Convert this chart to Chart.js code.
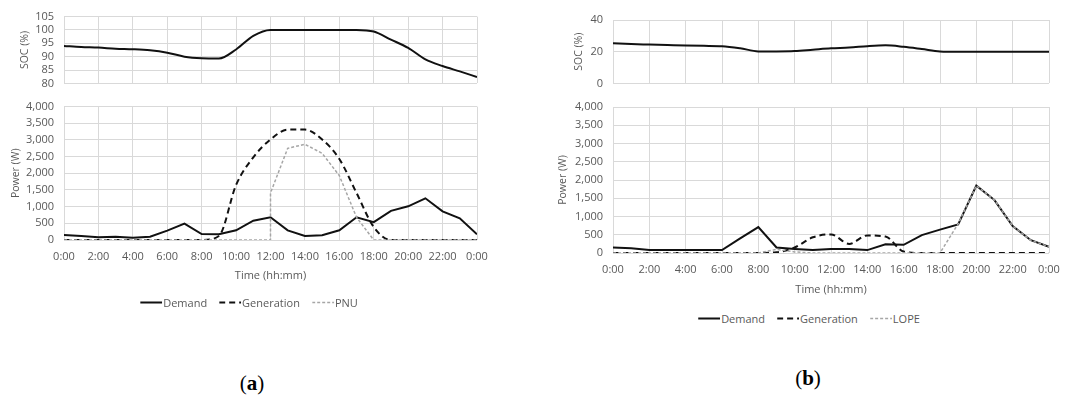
<!DOCTYPE html>
<html>
<head>
<meta charset="utf-8">
<script src="https://cdn.jsdelivr.net/npm/chart.js@4.4.1/dist/chart.umd.min.js"></script>
<style>
  body { margin: 0; background: #fff; }
  #wrap { position: relative; width: 1079px; height: 398px; overflow: hidden; font-family: 'Open Sans', sans-serif; }
  canvas { position: absolute; }
  .legend { position: absolute; display: flex; align-items: center; transform: translate(-50%, -50%);
            font-size: 11px; color: #595959; white-space: nowrap; }
  .legend .item { display: flex; align-items: center; margin: 0 6px; }
  .legend svg { margin-right: 1px; }
  .tag { position: absolute; transform: translate(-50%, -50%); font-family: 'Liberation Serif', serif;
         font-size: 21px; color: #000; }
</style>
</head>
<body>
<div id="wrap">
  <canvas id="socA" width="540" height="100" style="left:0;top:0"></canvas>
  <canvas id="powA" width="540" height="200" style="left:0;top:90px"></canvas>
  <canvas id="socB" width="539" height="100" style="left:540px;top:0"></canvas>
  <canvas id="powB" width="539" height="210" style="left:540px;top:90px"></canvas>
  <div class="legend" id="legA" style="left:249px;top:302px"></div>
  <div class="legend" id="legB" style="left:809px;top:318px"></div>
  <div class="tag" style="left:252px;top:383px">(<b>a</b>)</div>
  <div class="tag" style="left:808px;top:378px">(<b>b</b>)</div>
</div>
<script>
// hours of the day (0:00 .. next 0:00)
const hours = [0,1,2,3,4,5,6,7,8,9,10,11,12,13,14,15,16,17,18,19,20,21,22,23,24];

// (a) values
const socA = [94.0, 93.6, 93.4, 93.0, 92.8, 92.4, 91.5, 90.0, 89.4, 89.3, 92.7, 97.8, 100,
              100, 100, 100, 100, 100, 99.4, 96.4, 93.3, 89.0, 86.5, 84.5, 82.4];
const demandA = [150, 120, 80, 100, 70, 100, 280, 490, 180, 170, 290, 580, 680,
                 290, 120, 145, 290, 680, 535, 875, 1010, 1250, 860, 650, 170];
const generationA = [0, 0, 0, 0, 0, 0, 0, 0, 0, 120, 1650, 2480, 3015,
                     3310, 3310, 3015, 2430, 1410, 390, 0, 0, 0, 0, 0, 0];
// PNU jumps straight up at 12:00, so 12 appears twice
const pnuHours = [0,1,2,3,4,5,6,7,8,9,10,11,12,12,13,14,15,16,17,18,19,20,21,22,23,24];
const pnuA = [0, 0, 0, 0, 0, 0, 0, 0, 0, 0, 0, 0, 0, 1410,
              2750, 2870, 2600, 1930, 680, 0, 0, 0, 0, 0, 0, 0];

// (b) values
const socB = [25.3, 24.8, 24.5, 24.2, 23.9, 23.7, 23.5, 22.2, 20.2, 20.2, 20.4, 21.3, 22.2,
              22.6, 23.5, 24.0, 23.1, 21.7, 20.2, 20, 20, 20, 20, 20, 20];
const demandB = [150, 130, 85, 80, 80, 80, 80, 400, 710, 150, 110, 80, 110,
                 110, 80, 240, 225, 490, 640, 780, 1845, 1450, 740, 350, 170];
const generationB = [0, 0, 0, 0, 0, 0, 0, 0, 0, 20, 150, 430, 510,
                     250, 480, 450, 40, 0, 0, 0, 0, 0, 0, 0, 0];
const lopeB = [0, 0, 0, 0, 0, 0, 0, 0, 0, 100, 30, 0, 0,
               0, 0, 0, 0, 0, 0, 800, 1845, 1450, 740, 350, 170];

const textColor = '#595959';
const gridColor = '#d9d9d9';
Chart.defaults.font.family = "'Open Sans', sans-serif";
Chart.defaults.font.size = 11;
Chart.defaults.color = textColor;

const pts = (xs, ys) => ys.map((y, i) => ({ x: xs[i], y: y }));

const demandStyle = { borderColor: '#111', borderWidth: 2 };
const genStyle = { borderColor: '#111', borderWidth: 2, borderDash: [6, 4], cubicInterpolationMode: 'monotone' };
const thirdStyle = { borderColor: '#a6a6a6', borderWidth: 1.5, borderDash: [3, 2] };

function makeChart(id, datasets, o) {
  return new Chart(document.getElementById(id), {
    type: 'line',
    data: { datasets: datasets },
    options: {
      responsive: false,
      animation: false,
      parsing: false,
      elements: { point: { radius: 0 }, line: { tension: 0 } },
      layout: { padding: { left: 0, top: o.top, right: o.right, bottom: o.bottom } },
      plugins: { legend: { display: false }, tooltip: { enabled: false } },
      scales: {
        x: {
          type: 'linear', min: 0, max: 24,
          border: { display: false },
          grid: { color: gridColor, drawTicks: false },
          ticks: {
            display: o.xLabels, stepSize: 2, padding: 10, maxRotation: 0, autoSkip: false,
            callback: v => (v % 24) + ':00'
          },
          title: { display: o.xLabels, text: 'Time (hh:mm)', padding: { top: 0, bottom: 0 } },
          afterFit: s => { s.height = o.xHeight; }
        },
        y: {
          min: o.yMin, max: o.yMax,
          border: { display: false },
          grid: { color: gridColor, drawTicks: false },
          ticks: { stepSize: o.yStep, padding: 10, autoSkip: false, callback: v => v.toLocaleString('en-US') },
          title: { display: true, text: o.yTitle, font: { size: 10.5 }, padding: { top: o.titlePad, bottom: 0 } },
          afterFit: s => { s.width = o.yWidth; }
        }
      }
    }
  });
}

// (a)
makeChart('socA', [Object.assign({ data: pts(hours, socA), cubicInterpolationMode: 'monotone' }, demandStyle)],
  { top: 15, right: 63, bottom: 14, xLabels: false, xHeight: 0, yMin: 80, yMax: 105, yStep: 5,
    yTitle: 'SOC (%)', titlePad: 19, yWidth: 64 });
const dsA = [
  Object.assign({ label: 'Demand', data: pts(hours, demandA), order: 1 }, demandStyle),
  Object.assign({ label: 'Generation', data: pts(hours, generationA), order: 2 }, genStyle),
  Object.assign({ label: 'PNU', data: pts(pnuHours, pnuA), order: 0 }, thirdStyle)
];
makeChart('powA', dsA,
  { top: 13, right: 63, bottom: 8, xLabels: true, xHeight: 42, yMin: 0, yMax: 4000, yStep: 500,
    yTitle: 'Power (W)', titlePad: 10, yWidth: 64 });

// (b)
makeChart('socB', [Object.assign({ data: pts(hours, socB), cubicInterpolationMode: 'monotone' }, demandStyle)],
  { top: 20, right: 30, bottom: 7, xLabels: false, xHeight: 0, yMin: 0, yMax: 40, yStep: 20,
    yTitle: 'SOC (%)', titlePad: 33, yWidth: 73 });
const dsB = [
  Object.assign({ label: 'Demand', data: pts(hours, demandB), order: 1 }, demandStyle),
  Object.assign({ label: 'Generation', data: pts(hours, generationB), order: 2 }, genStyle),
  Object.assign({ label: 'LOPE', data: pts(hours, lopeB), order: 0 }, thirdStyle)
];
makeChart('powB', dsB,
  { top: 17, right: 30, bottom: 4, xLabels: true, xHeight: 43, yMin: 0, yMax: 4000, yStep: 500,
    yTitle: 'Power (W)', titlePad: 17, yWidth: 73 });

// legends below each panel, built from the datasets
function buildLegend(id, datasets) {
  const box = document.getElementById(id);
  datasets.forEach(d => {
    const item = document.createElement('span');
    item.className = 'item';
    const dash = d.borderDash ? d.borderDash.join(',') : 'none';
    item.innerHTML = '<svg width="22" height="6"><line x1="0" y1="3" x2="22" y2="3" stroke="' + d.borderColor +
      '" stroke-width="' + d.borderWidth + '" stroke-dasharray="' + dash + '"/></svg><span>' + d.label + '</span>';
    box.appendChild(item);
  });
}
buildLegend('legA', dsA);
buildLegend('legB', dsB);
</script>
</body>
</html>
